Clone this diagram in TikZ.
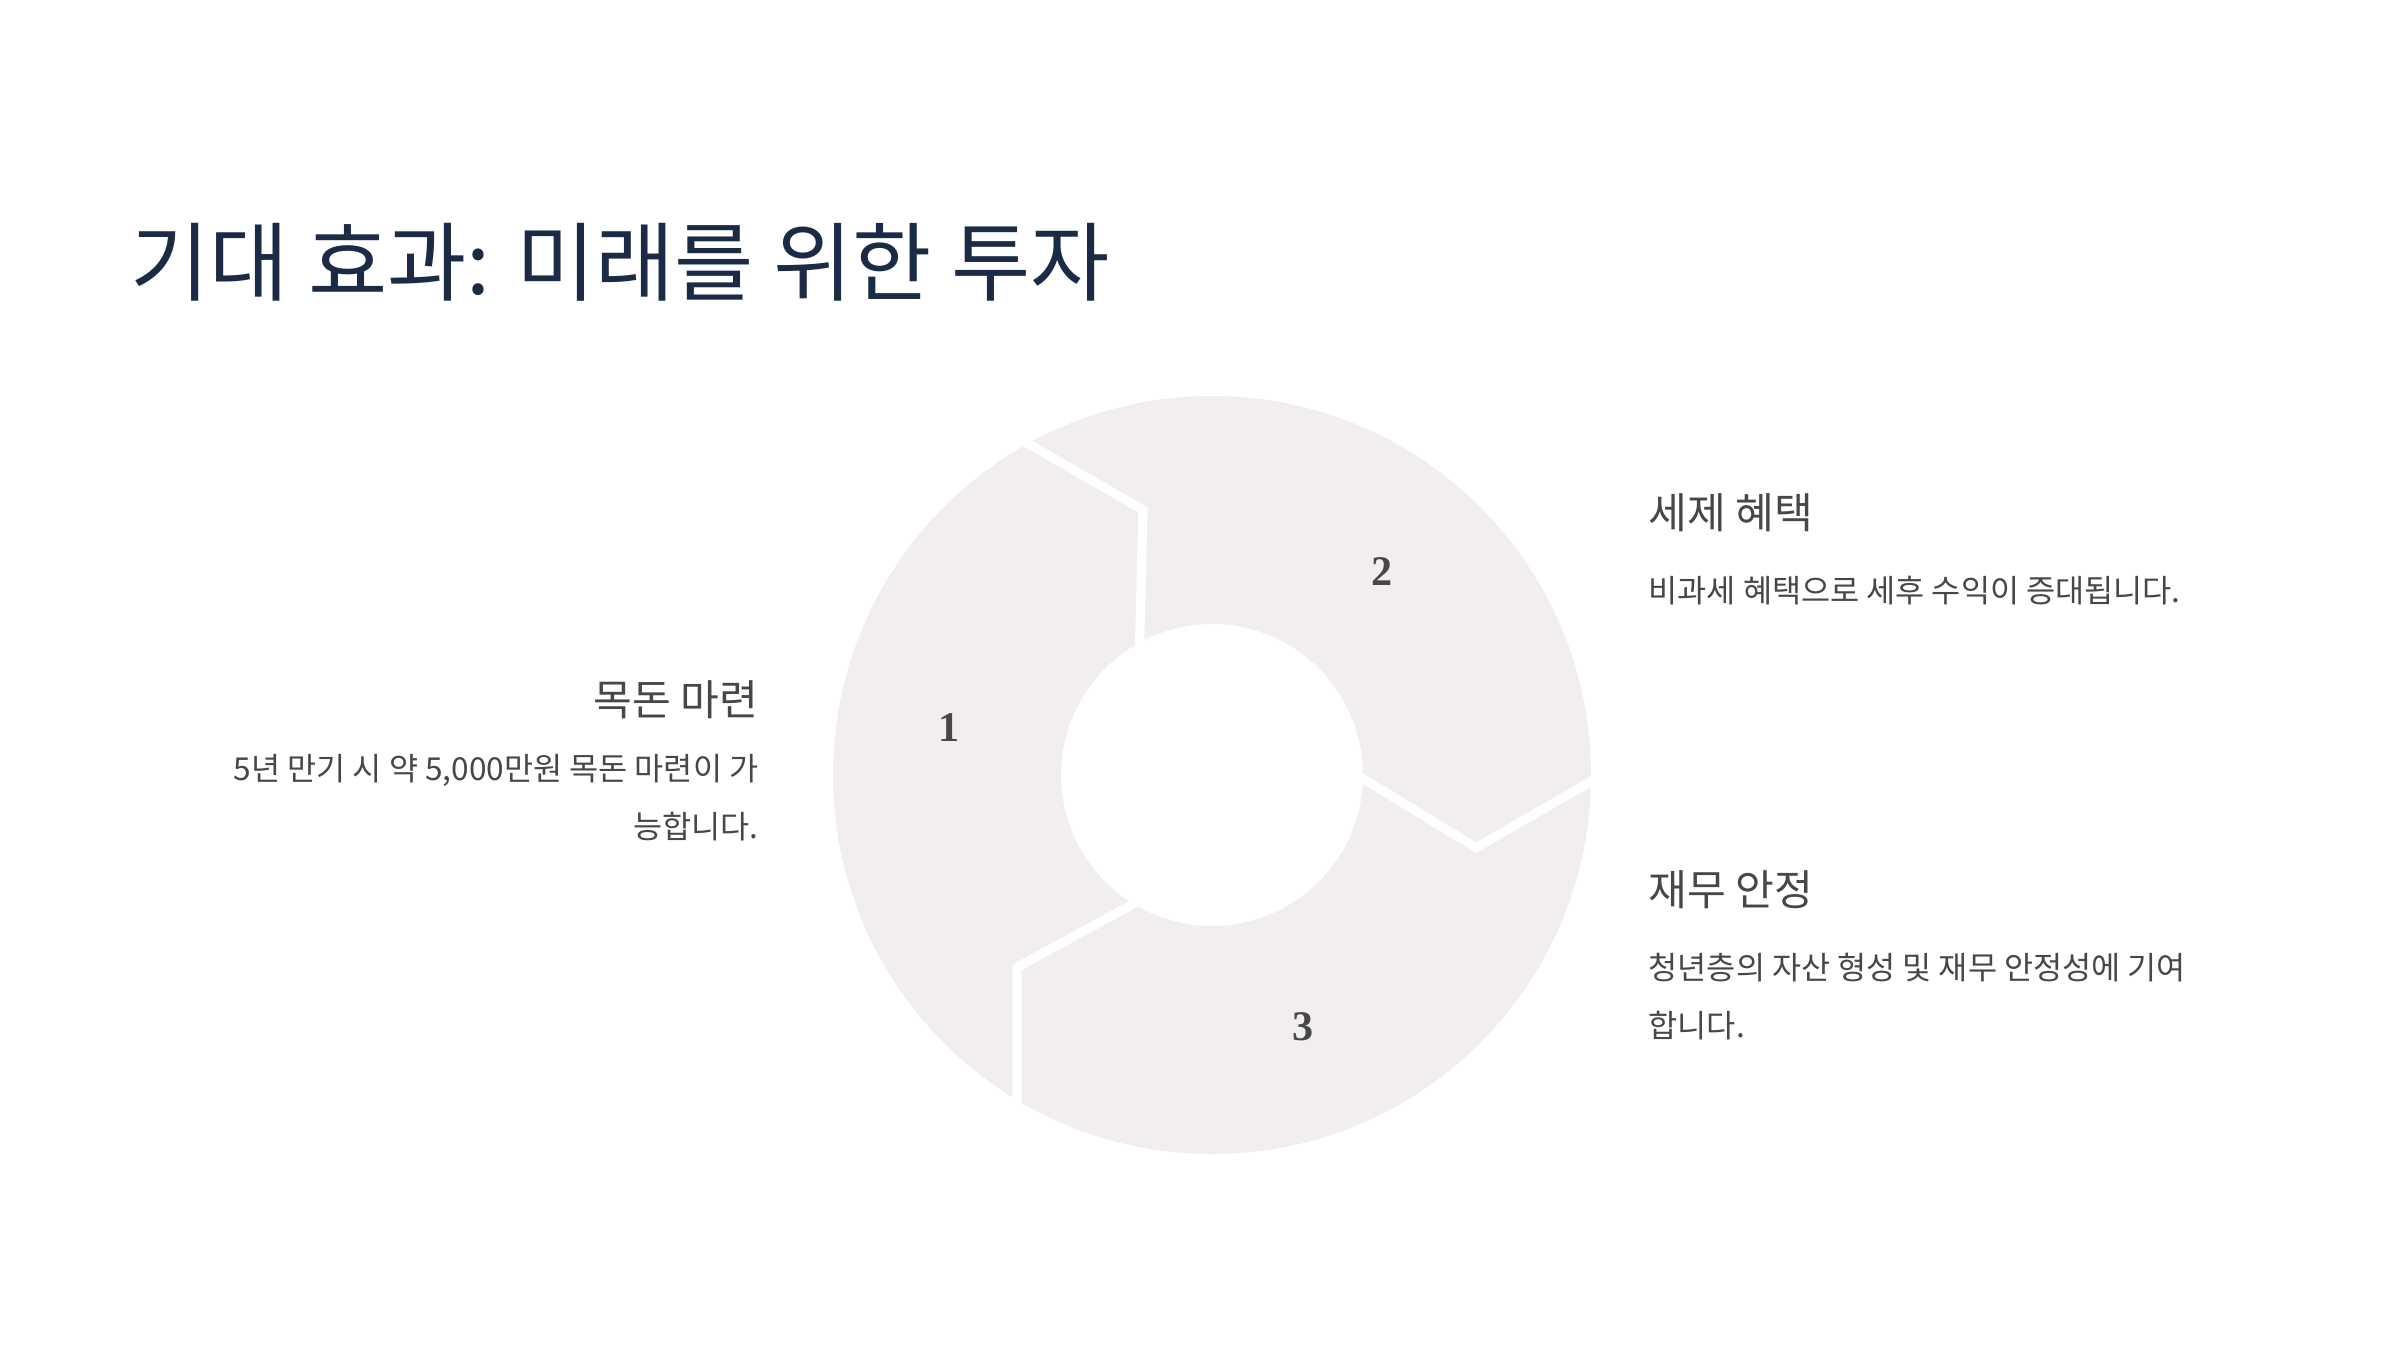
\documentclass[tikz,border=0pt]{standalone}
\usepackage{fontspec}
\usetikzlibrary{calc}
\setmainfont{Noto Sans CJK KR}
\newfontfamily\numfont{Liberation Serif}
\definecolor{seg}{HTML}{F1EEED}
\definecolor{navy}{HTML}{1B2B45}
\definecolor{txt}{HTML}{474747}
\begin{document}
\begin{tikzpicture}[x=1cm,y=1cm,
  head/.style={font=\fontsize{12}{14}\selectfont, text=txt, inner sep=0pt},
  body/.style={font=\fontsize{9}{16.5}\selectfont, text=txt, inner sep=0pt},
  num/.style={font=\numfont\bfseries\fontsize{12}{14}\selectfont, text=txt},
  heading/.style={font=\fontsize{24.5}{28}\selectfont, text=navy, inner sep=0pt},
  gap/.style={draw=white, line width=2.6pt, line join=miter}]
\useasboundingbox (0,0) rectangle (24,13.5);
\fill[white] (0,0) rectangle (24,13.5);
\coordinate (c) at (12.12,5.75);
\fill[seg, even odd rule] (c) circle (3.79) (c) circle (1.51);
\foreach \a in {0,120,240}{
  \draw[gap] ($(c)+(\a:1.45)$) -- ($(c)+(\a-15.4:2.74)$) -- ($(c)+(\a:3.9)$);
}
\node[num] (n1) at (9.49,6.22) {1};
\node[num] (n2) at (13.82,7.78) {2};
\node[num] (n3) at (13.03,3.23) {3};
\node[heading, anchor=base west] (t) at (1.30,10.55) {기대 효과: 미래를 위한 투자};
\node[head, anchor=west] (h2) at (16.48,8.37) {세제 혜택};
\node[body, anchor=west] (b2) at (16.48,7.59) {비과세 혜택으로 세후 수익이 증대됩니다.};
\node[head, anchor=west] (h3) at (16.48,4.60) {재무 안정};
\node[body, anchor=north west, align=left] (b3) at (16.48,3.98) {청년층의 자산 형성 및 재무 안정성에 기여\\합니다.};
\node[head, anchor=east] (h1) at (7.59,6.50) {목돈 마련};
\node[body, anchor=north east, align=right] (b1) at (7.59,5.96) {5년 만기 시 약 5,000만원 목돈 마련이 가\\능합니다.};
\end{tikzpicture}
\end{document}
